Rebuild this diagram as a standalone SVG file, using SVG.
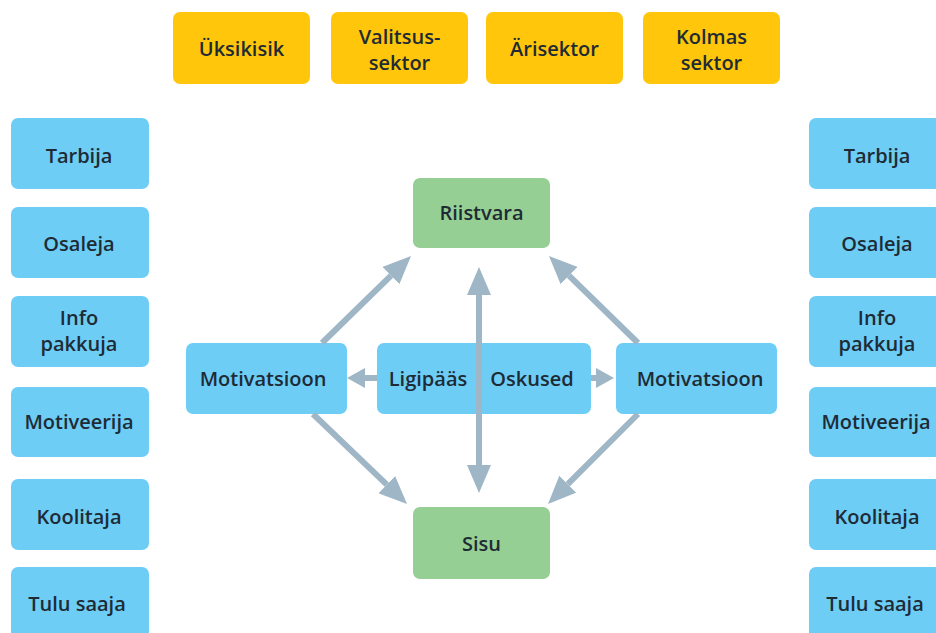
<svg xmlns="http://www.w3.org/2000/svg" width="936" height="633" viewBox="0 0 936 633">
<defs>
<style>
.y{fill:#FFC60B}
.b{fill:#6DCDF5}
.g{fill:#96CF93}
text{font-family:"Open Sans","Noto Sans","Liberation Sans",sans-serif;font-weight:600;font-size:20px;fill:#1E2B35;text-anchor:middle;dominant-baseline:central}
.c line{stroke:#9FB6C6;stroke-width:6;fill:none}
</style>
<marker id="ah" markerUnits="userSpaceOnUse" markerWidth="28" markerHeight="24" refX="0" refY="12" orient="auto-start-reverse" viewBox="0 0 28 24"><path d="M0,0 L28,12 L0,24 z" fill="#9FB6C6"/></marker>
<marker id="as" markerUnits="userSpaceOnUse" markerWidth="18" markerHeight="20" refX="0" refY="10" orient="auto" viewBox="0 0 18 20"><path d="M0,0 L18,10 L0,20 z" fill="#9FB6C6"/></marker>
</defs>
<rect width="936" height="633" fill="#fff"/>

<g id="top-uksikisik"><rect class="y" x="173" y="12" width="137" height="72" rx="7"/><text x="241.5" y="48">Üksikisik</text></g>
<g id="top-valitsussektor"><rect class="y" x="331" y="12" width="137" height="72" rx="7"/><text x="399.5" y="36">Valitsus-</text><text x="399.5" y="62">sektor</text></g>
<g id="top-arisektor"><rect class="y" x="486" y="12" width="137" height="72" rx="7"/><text x="554.5" y="48">Ärisektor</text></g>
<g id="top-kolmassektor"><rect class="y" x="643" y="12" width="137" height="72" rx="7"/><text x="711.5" y="36">Kolmas</text><text x="711.5" y="62">sektor</text></g>

<g id="l-tarbija"><rect class="b" x="11" y="118" width="138" height="71" rx="7"/><text x="79" y="155">Tarbija</text></g>
<g id="l-osaleja"><rect class="b" x="11" y="207" width="138" height="71" rx="7"/><text x="79" y="243">Osaleja</text></g>
<g id="l-info"><rect class="b" x="11" y="296" width="138" height="71" rx="7"/><text x="79" y="317">Info</text><text x="79" y="343">pakkuja</text></g>
<g id="l-motiveerija"><rect class="b" x="11" y="387" width="138" height="70" rx="7"/><text x="79" y="421">Motiveerija</text></g>
<g id="l-koolitaja"><rect class="b" x="11" y="479" width="138" height="71" rx="7"/><text x="79" y="516">Koolitaja</text></g>
<g id="l-tulusaaja"><rect class="b" x="11" y="567" width="138" height="80" rx="7"/><text x="77" y="603">Tulu saaja</text></g>

<g id="r-tarbija"><rect class="b" x="809" y="118" width="140" height="71" rx="7"/><text x="877" y="155">Tarbija</text></g>
<g id="r-osaleja"><rect class="b" x="809" y="207" width="140" height="71" rx="7"/><text x="877" y="243">Osaleja</text></g>
<g id="r-info"><rect class="b" x="809" y="296" width="140" height="71" rx="7"/><text x="877" y="317">Info</text><text x="877" y="343">pakkuja</text></g>
<g id="r-motiveerija"><rect class="b" x="809" y="387" width="140" height="70" rx="7"/><text x="876" y="421">Motiveerija</text></g>
<g id="r-koolitaja"><rect class="b" x="809" y="479" width="140" height="71" rx="7"/><text x="877" y="516">Koolitaja</text></g>
<g id="r-tulusaaja"><rect class="b" x="809" y="567" width="140" height="80" rx="7"/><text x="875" y="603">Tulu saaja</text></g>

<g id="riistvara"><rect class="g" x="413" y="178" width="137" height="70" rx="7"/><text x="481.5" y="212">Riistvara</text></g>
<g id="sisu"><rect class="g" x="413" y="507" width="137" height="72" rx="7"/><text x="481.5" y="543">Sisu</text></g>
<g id="motivatsioon-left"><rect class="b" x="186" y="343" width="161" height="71" rx="7"/><text x="263" y="378">Motivatsioon</text></g>
<g id="ligipaas-oskused"><rect class="b" x="377" y="343" width="214" height="71" rx="7"/><text x="428" y="378">Ligipääs</text><text x="532" y="378">Oskused</text></g>
<g id="motivatsioon-right"><rect class="b" x="616" y="343" width="161" height="71" rx="7"/><text x="700" y="378">Motivatsioon</text></g>

<g id="connectors" class="c">
<line x1="479" y1="295" x2="479" y2="465" marker-start="url(#ah)" marker-end="url(#ah)"/>
<line x1="322" y1="343" x2="391" y2="275.6" marker-end="url(#ah)"/>
<line x1="638" y1="343" x2="569" y2="275.6" marker-end="url(#ah)"/>
<line x1="313" y1="414" x2="386.8" y2="484.6" marker-end="url(#ah)"/>
<line x1="638" y1="414" x2="567.8" y2="484.2" marker-end="url(#ah)"/>
<line x1="377" y1="378" x2="365" y2="378" marker-end="url(#as)"/>
<line x1="591" y1="378" x2="596" y2="378" marker-end="url(#as)"/>
</g>
</svg>
